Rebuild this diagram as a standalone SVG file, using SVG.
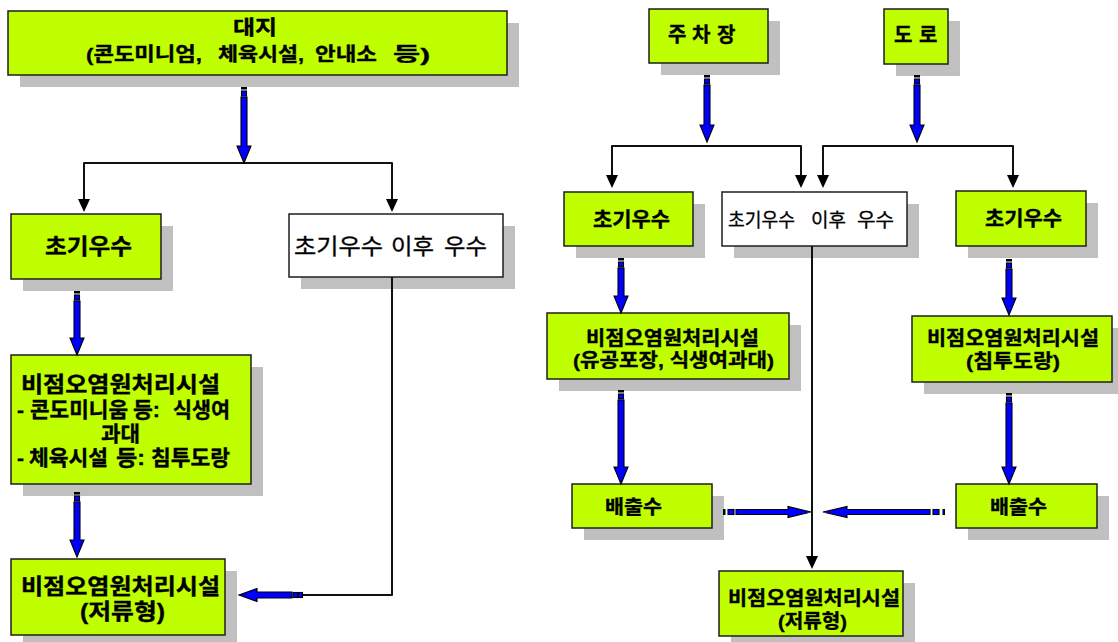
<svg xmlns="http://www.w3.org/2000/svg" width="1118" height="642" viewBox="0 0 1118 642">
<style>
.sh{fill:#C0C0C0}
.g{fill:#BFFF00;stroke:#1e1e1e;stroke-width:1.5}
.w{fill:#FFFFFF;stroke:#1e1e1e;stroke-width:1.5}
.t{font-family:"Liberation Sans","Noto Sans CJK KR",sans-serif;font-weight:bold;fill:#000;stroke:#000;stroke-width:0.35}
.tr{font-family:"Liberation Sans","Noto Sans CJK KR",sans-serif;font-weight:normal;fill:#000;stroke:#000;stroke-width:0.3}
.ln{fill:none;stroke:#111;stroke-width:2;stroke-linejoin:round}
.ba{fill:#0000FF;stroke:#000;stroke-width:1.1;stroke-linejoin:miter}
.bk{fill:#000}
</style>
<defs>
<marker id="ah" viewBox="0 0 13 12" refX="1" refY="6" markerWidth="13" markerHeight="12" markerUnits="userSpaceOnUse" orient="auto-start-reverse">
<path d="M0,0 L13,6 L0,12 z" fill="#000"/>
</marker>
</defs>

<g id="n-daeji">
<rect class="sh" x="20" y="23" width="499" height="64"/>
<rect class="g" x="8" y="11" width="499" height="64"/>
<text class="t" font-size="19"><tspan x="233" y="35" font-size="20" textLength="44" lengthAdjust="spacingAndGlyphs">대지</tspan><tspan x="86" y="61" textLength="116" lengthAdjust="spacingAndGlyphs">(콘도미니엄,</tspan> <tspan x="218" textLength="86" lengthAdjust="spacingAndGlyphs">체육시설,</tspan> <tspan x="315" textLength="62" lengthAdjust="spacingAndGlyphs">안내소</tspan> <tspan x="393" textLength="37" lengthAdjust="spacingAndGlyphs">등)</tspan></text>
</g>

<g id="n-parking">
<rect class="sh" x="661" y="21" width="119" height="54"/>
<rect class="g" x="649" y="9" width="119" height="54"/>
<text class="t" y="42" font-size="20" x="668 687 692 711 717">주 차 장</text>
</g>

<g id="n-road">
<rect class="sh" x="896" y="21" width="64" height="55"/>
<rect class="g" x="884" y="9" width="64" height="55"/>
<text class="t" y="42" font-size="20" x="894 912 919">도 로</text>
</g>

<g id="n-first-left">
<rect class="sh" x="23" y="226" width="150" height="65"/>
<rect class="g" x="11" y="214" width="150" height="65"/>
<text class="t" x="45" y="254" font-size="22" textLength="87" lengthAdjust="spacingAndGlyphs">초기우수</text>
</g>

<g id="n-after-left">
<rect class="sh" x="301" y="226" width="214" height="63"/>
<rect class="w" x="289" y="214" width="214" height="63"/>
<text class="tr" y="254" font-size="22"><tspan x="294" textLength="89" lengthAdjust="spacingAndGlyphs">초기우수</tspan> <tspan x="391" textLength="43" lengthAdjust="spacingAndGlyphs">이후</tspan> <tspan x="444" textLength="43" lengthAdjust="spacingAndGlyphs">우수</tspan></text>
</g>

<g id="n-npfac-left">
<rect class="sh" x="23" y="367" width="240" height="129"/>
<rect class="g" x="11" y="355" width="240" height="129"/>
<text class="t" font-size="21"><tspan x="21" y="392" font-size="22" textLength="199" lengthAdjust="spacingAndGlyphs">비점오염원처리시설</tspan><tspan x="17" y="417">-</tspan> <tspan x="30" textLength="98" lengthAdjust="spacingAndGlyphs">콘도미니움</tspan> <tspan x="133" textLength="27" lengthAdjust="spacingAndGlyphs">등:</tspan> <tspan x="173" textLength="57" lengthAdjust="spacingAndGlyphs">식생여</tspan><tspan x="101" y="441" textLength="39" lengthAdjust="spacingAndGlyphs">과대</tspan><tspan x="17" y="465">-</tspan> <tspan x="29" textLength="79" lengthAdjust="spacingAndGlyphs">체육시설</tspan> <tspan x="116" textLength="29" lengthAdjust="spacingAndGlyphs">등:</tspan> <tspan x="151" textLength="79" lengthAdjust="spacingAndGlyphs">침투도랑</tspan></text>
</g>

<g id="n-storage-left">
<rect class="sh" x="23" y="571" width="214" height="76"/>
<rect class="g" x="11" y="559" width="214" height="76"/>
<text class="t" font-size="22"><tspan x="21" y="594" textLength="199" lengthAdjust="spacingAndGlyphs">비점오염원처리시설</tspan><tspan x="80" y="619" textLength="85" lengthAdjust="spacingAndGlyphs">(저류형)</tspan></text>
</g>

<g id="n-first-r1">
<rect class="sh" x="576" y="204" width="129" height="54"/>
<rect class="g" x="564" y="192" width="129" height="54"/>
<text class="t" x="593" y="226.5" font-size="20" textLength="77" lengthAdjust="spacingAndGlyphs">초기우수</text>
</g>

<g id="n-after-mid">
<rect class="sh" x="734" y="204" width="185" height="54"/>
<rect class="w" x="722" y="192" width="185" height="54"/>
<text class="tr" y="226.5" font-size="19"><tspan x="728" textLength="67" lengthAdjust="spacingAndGlyphs">초기우수</tspan> <tspan x="811" textLength="35" lengthAdjust="spacingAndGlyphs">이후</tspan> <tspan x="857" textLength="37" lengthAdjust="spacingAndGlyphs">우수</tspan></text>
</g>

<g id="n-first-r2">
<rect class="sh" x="968" y="203" width="130" height="55"/>
<rect class="g" x="956" y="191" width="130" height="55"/>
<text class="t" x="985" y="226" font-size="20" textLength="77" lengthAdjust="spacingAndGlyphs">초기우수</text>
</g>

<g id="n-npfac-r1">
<rect class="sh" x="559" y="325" width="242" height="66"/>
<rect class="g" x="547" y="313" width="242" height="66"/>
<text class="t" font-size="19"><tspan x="586" y="344.5" textLength="173" lengthAdjust="spacingAndGlyphs">비점오염원처리시설</tspan><tspan x="573" y="366.5" textLength="201" lengthAdjust="spacingAndGlyphs">(유공포장, 식생여과대)</tspan></text>
</g>

<g id="n-npfac-r2">
<rect class="sh" x="924" y="328" width="200" height="66"/>
<rect class="g" x="912" y="316" width="200" height="66"/>
<text class="t" font-size="19"><tspan x="927" y="344.5" textLength="172" lengthAdjust="spacingAndGlyphs">비점오염원처리시설</tspan><tspan x="966" y="367.5" textLength="94" lengthAdjust="spacingAndGlyphs">(침투도랑)</tspan></text>
</g>

<g id="n-outflow-r1">
<rect class="sh" x="584" y="496" width="140" height="44"/>
<rect class="g" x="572" y="484" width="140" height="44"/>
<text class="t" x="605" y="513.5" font-size="19.5" textLength="57" lengthAdjust="spacingAndGlyphs">배출수</text>
</g>

<g id="n-outflow-r2">
<rect class="sh" x="968" y="496" width="141" height="44"/>
<rect class="g" x="956" y="484" width="141" height="44"/>
<text class="t" x="990" y="513.5" font-size="19.5" textLength="57" lengthAdjust="spacingAndGlyphs">배출수</text>
</g>

<g id="n-storage-mid">
<rect class="sh" x="731" y="583" width="184" height="65"/>
<rect class="g" x="719" y="571" width="184" height="65"/>
<text class="t" font-size="19"><tspan x="728" y="604.5" textLength="172" lengthAdjust="spacingAndGlyphs">비점오염원처리시설</tspan><tspan x="778" y="628" textLength="69" lengthAdjust="spacingAndGlyphs">(저류형)</tspan></text>
</g>

<g id="connectors">
<path class="ln" d="M84,200 V163 H392 V200" marker-start="url(#ah)" marker-end="url(#ah)"/>
<path class="ln" d="M612,176 V146 H801 V176" marker-start="url(#ah)" marker-end="url(#ah)"/>
<path class="ln" d="M823,176 V146 H1013 V176" marker-start="url(#ah)" marker-end="url(#ah)"/>
<path class="ln" d="M812,246 V557" marker-end="url(#ah)"/>
<path class="ln" d="M392,277 V595 H303"/>

<g id="ba1"><rect class="bk" x="241" y="87" width="6" height="2.5"/><rect class="ba" x="241.5" y="91" width="5" height="5"/><polygon class="ba" points="241,97 247,97 247,146 251,146 244,163 237,146 241,146"/></g>
<g id="ba2"><rect class="bk" x="74" y="291" width="6" height="2.5"/><rect class="ba" x="74.5" y="295" width="5" height="5"/><polygon class="ba" points="74,301 80,301 80,338 84,338 77,355 70,338 74,338"/></g>
<g id="ba3"><rect class="bk" x="74" y="492" width="6" height="2.5"/><rect class="ba" x="74.5" y="496" width="5" height="5"/><polygon class="ba" points="74,502 80,502 80,540 84,540 77,557 70,540 74,540"/></g>
<g id="ba4"><rect class="bk" x="704" y="75" width="6" height="2.5"/><rect class="ba" x="704.5" y="79" width="5" height="5"/><polygon class="ba" points="704,85 710,85 710,125 714,125 707,142 700,125 704,125"/></g>
<g id="ba5"><rect class="bk" x="914" y="75" width="6" height="2.5"/><rect class="ba" x="914.5" y="79" width="5" height="5"/><polygon class="ba" points="914,85 920,85 920,125 924,125 917,142 910,125 914,125"/></g>
<g id="ba6"><rect class="bk" x="618" y="258" width="6" height="2.5"/><rect class="ba" x="618.5" y="262" width="5" height="5"/><polygon class="ba" points="618,268 624,268 624,296 628,296 621,313 614,296 618,296"/></g>
<g id="ba7"><rect class="bk" x="618" y="390" width="6" height="2.5"/><rect class="ba" x="618.5" y="394" width="5" height="5"/><polygon class="ba" points="618,400 624,400 624,467 628,467 621,484 614,467 618,467"/></g>
<g id="ba8"><rect class="bk" x="1006" y="259" width="6" height="2.5"/><rect class="ba" x="1006.5" y="263" width="5" height="5"/><polygon class="ba" points="1006,269 1012,269 1012,298 1016,298 1009,315 1002,298 1006,298"/></g>
<g id="ba9"><rect class="bk" x="1006" y="393" width="6" height="2.5"/><rect class="ba" x="1006.5" y="397" width="5" height="5"/><polygon class="ba" points="1006,403 1012,403 1012,467 1016,467 1009,484 1002,467 1006,467"/></g>

<g id="bh1"><rect class="bk" x="723" y="509" width="2.5" height="6"/><rect class="ba" x="728" y="509.5" width="6" height="5"/><polygon class="ba" points="736,509.5 736,514.5 788,514.5 788,517.5 811,512 788,506.5 788,509.5"/></g>
<g id="bh2"><rect class="bk" x="942.5" y="509" width="2.5" height="6"/><rect class="ba" x="933" y="509.5" width="6" height="5"/><polygon class="ba" points="930,509.5 930,514.5 847,514.5 847,517.5 823,512 847,506.5 847,509.5"/></g>
<g id="bh3"><rect class="ba" x="298" y="592.5" width="4.5" height="5"/><rect class="ba" x="293" y="592.5" width="4.5" height="5"/><polygon class="ba" points="292,592 292,598 257,598 257,601.5 239,595 257,588.5 257,592"/></g>
</g>
</svg>
